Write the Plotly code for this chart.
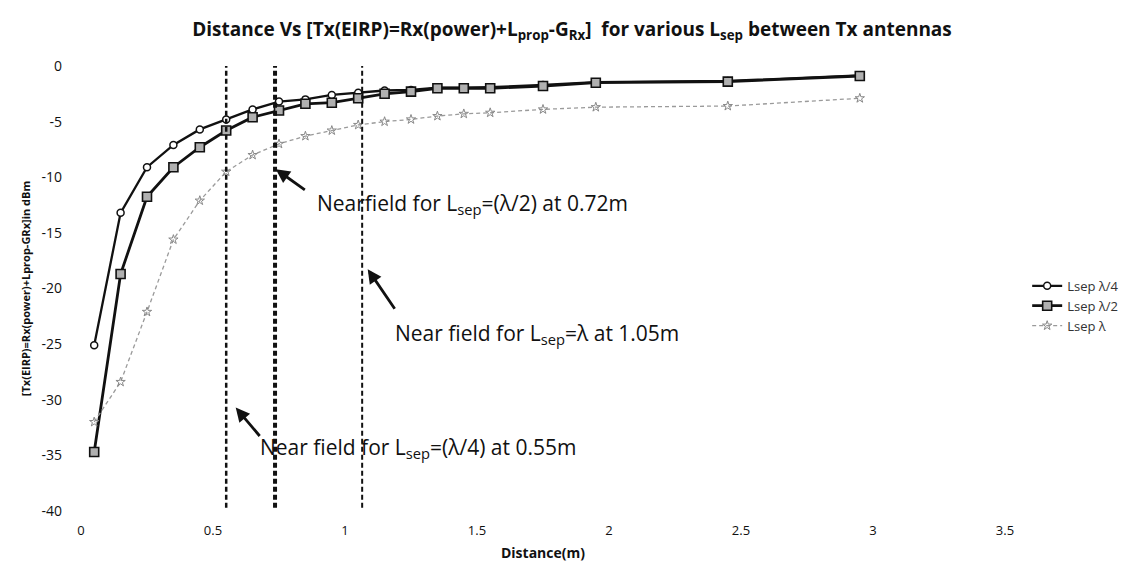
import plotly.graph_objects as go

# ---- data ----
distance = [0.05, 0.15, 0.25, 0.35, 0.45, 0.55, 0.65, 0.75, 0.85, 0.95,
            1.05, 1.15, 1.25, 1.35, 1.45, 1.55, 1.75, 1.95, 2.45, 2.95]
lsep_quarter = [-25.1, -13.2, -9.1, -7.1, -5.7, -4.8, -3.9, -3.2, -3.0, -2.6,
                -2.4, -2.2, -2.15, -1.95, -1.95, -1.9, -1.7, -1.45, -1.35, -0.85]
lsep_half = [-34.7, -18.7, -11.75, -9.1, -7.3, -5.8, -4.6, -4.0, -3.4, -3.3,
             -2.9, -2.5, -2.3, -2.0, -2.0, -2.0, -1.8, -1.5, -1.4, -0.9]
lsep_full = [-32.0, -28.4, -22.1, -15.6, -12.1, -9.5, -8.0, -7.0, -6.3, -5.8,
             -5.3, -5.0, -4.8, -4.5, -4.3, -4.2, -3.9, -3.7, -3.6, -2.9]
series_names = ["Lsep λ/4", "Lsep λ/2", "Lsep λ"]

nearfield_x = [0.55, 0.735, 1.065]
nearfield_width = [2.5, 4, 2]
y_ticks = [0, -5, -10, -15, -20, -25, -30, -35, -40]
x_ticks = [0, 0.5, 1, 1.5, 2, 2.5, 3, 3.5]

# annotation texts, arrow heads (data) and text anchors (data)
note_texts = [
    "Nearfield for L<sub>sep</sub>=(λ/2) at 0.72m",
    "Near field for L<sub>sep</sub>=λ at 1.05m",
    "Near field for L<sub>sep</sub>=(λ/4) at 0.55m",
]
note_text_x = [0.885, 1.18, 0.67]
note_text_y = [-12.4, -24.05, -34.3]
arrow_head_x = [0.738, 1.086, 0.586]
arrow_head_y = [-9.27, -18.26, -30.7]
arrow_tail_dx = [32, 30, 27]
arrow_tail_dy = [23, 44, 32]

FONT = "Open Sans"

fig = go.Figure()

fig.add_trace(go.Scatter(
    x=distance, y=lsep_quarter, name=series_names[0], mode="lines+markers",
    line=dict(color="#111111", width=2.3),
    marker=dict(symbol="circle", size=7, color="white",
                line=dict(color="#111111", width=1.5)),
))
fig.add_trace(go.Scatter(
    x=distance, y=lsep_half, name=series_names[1], mode="lines+markers",
    line=dict(color="#111111", width=2.8),
    marker=dict(symbol="square", size=9, color="#b0b0b0",
                line=dict(color="#111111", width=1.6)),
))
fig.add_trace(go.Scatter(
    x=distance, y=lsep_full, name=series_names[2], mode="lines+markers",
    line=dict(color="#9a9a9a", width=1.3, dash="4px,3px"),
    marker=dict(symbol="star-open", size=7, color="#888888",
                line=dict(width=1)),
))

for xv, w in zip(nearfield_x, nearfield_width):
    fig.add_shape(type="line", xref="x", yref="y",
                  x0=xv, x1=xv, y0=0.3, y1=-39.7,
                  line=dict(color="#111111", width=w, dash="5px,3px"))

for i in range(3):
    fig.add_annotation(
        x=arrow_head_x[i], y=arrow_head_y[i], xref="x", yref="y",
        text=" ", showarrow=True, ax=arrow_tail_dx[i], ay=arrow_tail_dy[i],
        arrowhead=2, arrowsize=1.0, arrowwidth=2.8, arrowcolor="#111111",
    )
    fig.add_annotation(
        x=note_text_x[i], y=note_text_y[i], xref="x", yref="y",
        text=note_texts[i], showarrow=False, xanchor="left", yanchor="middle",
        font=dict(family=FONT, size=21, color="#111111"),
    )

fig.update_layout(
    width=1128, height=563,
    margin=dict(l=73, r=130, t=58, b=56),
    paper_bgcolor="white", plot_bgcolor="white",
    title=dict(
        text="<b>Distance Vs [Tx(EIRP)=Rx(power)+L<sub>prop</sub>-G<sub>Rx</sub>]  for various L<sub>sep</sub> between Tx antennas</b>",
        x=0.5, xanchor="center", y=0.962, yanchor="middle",
        font=dict(family=FONT, size=19, color="#111111"),
    ),
    font=dict(family=FONT, color="#111111"),
    showlegend=True,
    legend=dict(x=1.024, xanchor="left", y=0.461, yanchor="middle",
                font=dict(family=FONT, size=13, color="#333333"),
                bgcolor="rgba(0,0,0,0)", itemwidth=30, tracegroupgap=0),
    xaxis=dict(
        range=[0, 3.5], tickvals=x_ticks, ticktext=[str(t) for t in x_ticks],
        showgrid=False, zeroline=False, showline=False, ticks="",
        tickfont=dict(family=FONT, size=13, color="#111111"),
        ticklabelstandoff=10,
        title=dict(text="<b>Distance(m)</b>", standoff=10,
                   font=dict(family=FONT, size=14, color="#111111")),
    ),
    yaxis=dict(
        range=[-40, 0], tickvals=y_ticks, ticktext=[str(t) for t in y_ticks],
        showgrid=False, zeroline=False, showline=False, ticks="",
        tickfont=dict(family=FONT, size=14, color="#111111"),
        ticklabelstandoff=18,
        title=dict(text="<b>[Tx(EIRP)=Rx(power)+Lprop-GRx]in dBm</b>", standoff=8,
                   font=dict(family=FONT, size=11, color="#111111")),
    ),
)

fig.write_html("out.html")
